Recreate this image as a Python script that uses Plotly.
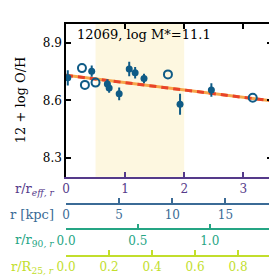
import plotly.graph_objects as go

# ---- data ----
filled_r = [0.03, 0.435, 0.70, 0.73, 0.90, 1.07, 1.17, 1.32, 1.93, 2.46]
filled_oh = [8.718, 8.753, 8.685, 8.665, 8.634, 8.764, 8.745, 8.715, 8.580, 8.654]
filled_err = [0.04, 0.03, 0.025, 0.025, 0.033, 0.038, 0.03, 0.025, 0.055, 0.035]
open_r = [0.27, 0.32, 0.50, 1.725, 3.16]
open_oh = [8.769, 8.681, 8.693, 8.736, 8.614]
fit_r = [0.0, 3.486]
fit_oh = [8.731, 8.597]
shade_r = [0.5, 2.0]

reff_ticks = [0, 1, 2, 3]
kpc_ticks = [0, 5, 10, 15]
r90_ticks = [0.0, 0.5, 1.0]
r90_text = ["0.0", "0.5", "1.0"]
r25_ticks = [0.0, 0.2, 0.4, 0.6, 0.8]
r25_text = ["0.0", "0.2", "0.4", "0.6", "0.8"]
oh_ticks = [8.3, 8.6, 8.9]

reff_range = [0, 3.486]
kpc_range = [0, 19.38]
r90_range = [0, 1.433]
r25_range = [0, 0.958]
oh_range = [8.2, 9.0]

title_text = "12069, log M*=11.1"

# ---- style ----
FONT = "DejaVu Serif"
C_PURPLE = "#553a8a"
C_BLUE = "#3b6b96"
C_TEAL = "#25a584"
C_YEL = "#c2de2c"
C_PT = "#0f5b86"

fig = go.Figure()

fig.add_trace(go.Scatter(x=fit_r, y=fit_oh, mode="lines",
                         line=dict(color="#f7a64a", width=3), showlegend=False, hoverinfo="skip"))
fig.add_trace(go.Scatter(x=fit_r, y=fit_oh, mode="lines",
                         line=dict(color="#e8432a", width=3, dash="7px,5px"), showlegend=False, hoverinfo="skip"))
fig.add_trace(go.Scatter(x=filled_r, y=filled_oh, mode="markers",
                         marker=dict(color=C_PT, size=7),
                         error_y=dict(type="data", array=filled_err, color=C_PT, thickness=2, width=0),
                         showlegend=False, cliponaxis=False))
fig.add_trace(go.Scatter(x=open_r, y=open_oh, mode="markers",
                         marker=dict(color=C_PT, size=8, symbol="circle-open", line=dict(width=2, color=C_PT)),
                         showlegend=False, cliponaxis=False))

# dummy traces to activate extra axes
for xa in ["x2", "x3", "x4", "x5"]:
    fig.add_trace(go.Scatter(x=[None], y=[None], xaxis=xa, yaxis="y", showlegend=False, hoverinfo="skip"))

fig.add_shape(type="rect", xref="x", yref="y domain", x0=shade_r[0], x1=shade_r[1], y0=0, y1=1,
              fillcolor="#fdf7e0", line=dict(width=0), layer="below")

pb = 255.0
ph = 239.0
def py(p):
    return (pb - p) / ph

tickfont = dict(family=FONT, size=12)

fig.update_layout(
    width=277, height=277,
    margin=dict(l=58, r=11, t=16, b=22),
    paper_bgcolor="white", plot_bgcolor="white",
    font=dict(family=FONT, size=12, color="black"),
    xaxis=dict(range=reff_range, domain=[0, 1], anchor="y", side="bottom",
               tickvals=reff_ticks, ticks="inside", ticklen=5, tickwidth=1.5, tickcolor=C_PURPLE,
               showline=True, linecolor=C_PURPLE, linewidth=1.5, showgrid=False, zeroline=False,
               tickfont=dict(family=FONT, size=12, color=C_PURPLE)),
    xaxis5=dict(range=reff_range, overlaying="x", anchor="y", side="top",
                tickvals=reff_ticks, ticks="inside", ticklen=5, tickwidth=1.5, tickcolor="black",
                showline=True, linecolor="black", linewidth=1.5, showgrid=False, zeroline=False,
                showticklabels=False),
    xaxis2=dict(range=kpc_range, overlaying="x", anchor="free", position=py(201), side="bottom",
                tickvals=kpc_ticks, ticks="inside", ticklen=5, tickwidth=1.5, tickcolor=C_BLUE,
                showline=True, linecolor=C_BLUE, linewidth=1.5, showgrid=False, zeroline=False,
                tickfont=dict(family=FONT, size=12, color=C_BLUE)),
    xaxis3=dict(range=r90_range, overlaying="x", anchor="free", position=py(227.7), side="bottom",
                tickvals=r90_ticks, ticktext=r90_text, ticks="inside", ticklen=5, tickwidth=1.5, tickcolor=C_TEAL,
                showline=True, linecolor=C_TEAL, linewidth=1.5, showgrid=False, zeroline=False,
                tickfont=dict(family=FONT, size=12, color=C_TEAL)),
    xaxis4=dict(range=r25_range, overlaying="x", anchor="free", position=py(255), side="bottom",
                tickvals=r25_ticks, ticktext=r25_text, ticks="inside", ticklen=5, tickwidth=1.5, tickcolor=C_YEL,
                showline=True, linecolor=C_YEL, linewidth=1.5, showgrid=False, zeroline=False,
                tickfont=dict(family=FONT, size=12, color=C_YEL)),
    yaxis=dict(range=oh_range, domain=[py(173.3), 1], anchor="x",
               tickvals=oh_ticks, ticks="inside", ticklen=5, tickwidth=1.5, tickcolor="black",
               showline=True, linecolor="black", linewidth=1.5, mirror="ticks",
               showgrid=False, zeroline=False, tickfont=tickfont),
)

def px_x(p):
    return (p - 58.0) / 208.0

annos = [
    ("r/r<sub><i>eff, r</i></sub>", C_PURPLE, 187),
    ("r [kpc]", C_BLUE, 212),
    ("r/r<sub>90<i>, r</i></sub>", C_TEAL, 239),
    ("r/R<sub>25<i>, r</i></sub>", C_YEL, 267),
]
for txt, col, yy in annos:
    fig.add_annotation(text=txt, xref="paper", yref="paper", x=px_x(48), y=py(yy),
                       xanchor="right", yanchor="middle", showarrow=False,
                       font=dict(family=FONT, size=13, color=col))

fig.add_annotation(text="12 + log O/H", xref="paper", yref="paper", x=px_x(12), y=py(94),
                   xanchor="center", yanchor="middle", textangle=-90, showarrow=False,
                   font=dict(family=FONT, size=13, color="black"))
fig.add_annotation(text=title_text, xref="paper", yref="paper", x=px_x(67), y=py(27),
                   xanchor="left", yanchor="middle", showarrow=False,
                   font=dict(family=FONT, size=13, color="black"))

fig.write_html("out.html")
